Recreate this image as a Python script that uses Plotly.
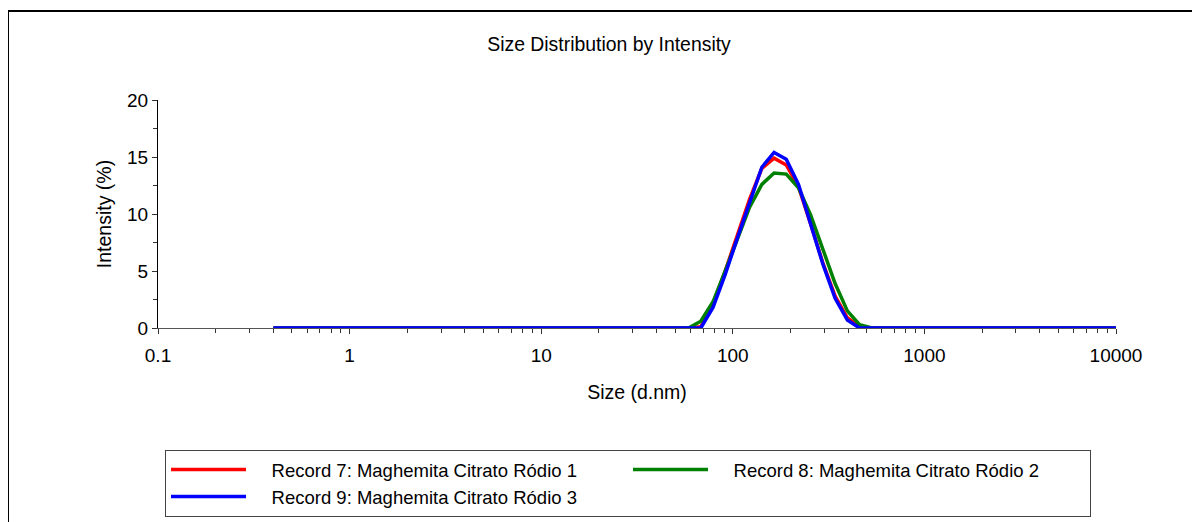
import plotly.graph_objects as go

# Size bins (d.nm)
size_nm = [0.4, 0.4632, 0.5365, 0.6213, 0.7195, 0.8332, 0.9649, 1.117, 1.294, 1.499,
           1.736, 2.010, 2.328, 2.696, 3.122, 3.615, 4.187, 4.849, 5.615, 6.503,
           7.531, 8.721, 10.10, 11.70, 13.54, 15.69, 18.17, 21.04, 24.36, 28.21,
           32.67, 37.84, 43.82, 50.75, 58.77, 68.06, 78.82, 91.28, 105.7, 122.4,
           141.8, 164.2, 190.1, 220.2, 255.0, 295.3, 342.0, 396.1, 458.7, 531.2,
           615.1, 712.4, 825.0, 955.4, 1106, 1281, 1484, 1718, 1990, 2305,
           2669, 3091, 3580, 4145, 4801, 5560, 6439, 7456, 8635, 10000]

record7 = [0, 0, 0, 0, 0, 0, 0, 0, 0, 0,
           0, 0, 0, 0, 0, 0, 0, 0, 0, 0,
           0, 0, 0, 0, 0, 0, 0, 0, 0, 0,
           0, 0, 0, 0, 0, 0.1, 2.0, 5.0, 8.2, 11.3,
           14.0, 14.9, 14.3, 12.4, 9.1, 5.7, 2.8, 0.9, 0.1, 0,
           0, 0, 0, 0, 0, 0, 0, 0, 0, 0,
           0, 0, 0, 0, 0, 0, 0, 0, 0, 0]

record8 = [0, 0, 0, 0, 0, 0, 0, 0, 0, 0,
           0, 0, 0, 0, 0, 0, 0, 0, 0, 0,
           0, 0, 0, 0, 0, 0, 0, 0, 0, 0,
           0, 0, 0, 0, 0, 0.6, 2.3, 5.0, 7.9, 10.6,
           12.6, 13.6, 13.5, 12.3, 9.9, 6.9, 3.9, 1.5, 0.3, 0,
           0, 0, 0, 0, 0, 0, 0, 0, 0, 0,
           0, 0, 0, 0, 0, 0, 0, 0, 0, 0]

record9 = [0, 0, 0, 0, 0, 0, 0, 0, 0, 0,
           0, 0, 0, 0, 0, 0, 0, 0, 0, 0,
           0, 0, 0, 0, 0, 0, 0, 0, 0, 0,
           0, 0, 0, 0, 0, 0, 1.8, 4.7, 7.9, 11.1,
           14.1, 15.4, 14.8, 12.6, 9.1, 5.6, 2.6, 0.7, 0, 0,
           0, 0, 0, 0, 0, 0, 0, 0, 0, 0,
           0, 0, 0, 0, 0, 0, 0, 0, 0, 0]

series_names = ["Record 7: Maghemita Citrato Ródio 1",
                "Record 8: Maghemita Citrato Ródio 2",
                "Record 9: Maghemita Citrato Ródio 3"]
series_values = [record7, record8, record9]
series_colors = ["#ff0000", "#008000", "#0000ff"]

x_tickvals = [0.1, 1, 10, 100, 1000, 10000]
x_ticktext = ["0.1", "1", "10", "100", "1000", "10000"]
y_tickvals = [0, 5, 10, 15, 20]

FONT = "Liberation Sans, Arial, sans-serif"
PAD = "\u00a0\u00a0\u00a0\u00a0"

fig = go.Figure()
for name, vals, col in zip(series_names, series_values, series_colors):
    fig.add_trace(go.Scatter(x=size_nm, y=vals, mode="lines", name=PAD + name,
                             line=dict(color=col, width=3.5)))

# page body has an 8px default margin: work in reference pixels, shifted by 8
OFF = 8
W, H = 1200 - OFF, 522 - OFF
L, R, T, B = 158 - OFF, W - (1116 - OFF), 100 - OFF, H - (328 - OFF)
pw, ph = W - L - R, H - T - B

def px_x(p):
    return (p - OFF - L) / pw

def px_y(p):
    return (H - B - (p - OFF)) / ph

TICKC = "#333"

fig.update_layout(
    width=W, height=H,
    margin=dict(l=L, r=R, t=T, b=B, autoexpand=False),
    paper_bgcolor="white", plot_bgcolor="white",
    font=dict(family=FONT, size=19, color="#000"),
    title=dict(text="Size Distribution by Intensity", x=px_x(609), y=1 - (44 - OFF) / H,
               xanchor="center", yanchor="middle", xref="paper", yref="container",
               font=dict(size=19.4, color="#000")),
    showlegend=True,
    legend=dict(orientation="h", x=px_x(165), y=px_y(450), xanchor="left", yanchor="top",
                bordercolor="#444", borderwidth=1, bgcolor="white",
                entrywidth=372, entrywidthmode="pixels", itemwidth=75,
                font=dict(size=18.5, color="#000")),
    xaxis=dict(type="log", range=[-1, 4], tickvals=x_tickvals, ticktext=x_ticktext,
               showgrid=False, zeroline=False, showline=True, linecolor="#555", linewidth=1,
               ticks="outside", ticklen=5, tickcolor=TICKC, tickfont=dict(size=19),
               ticklabelstandoff=5,
               minor=dict(ticks="outside", ticklen=4, tickcolor=TICKC, dtick="D1", showgrid=False),
               title=dict(text="Size (d.nm)", standoff=20, font=dict(size=19.5)),
               automargin=False),
    yaxis=dict(range=[0, 20], tickvals=y_tickvals, showgrid=False, zeroline=False,
               showline=True, linecolor="#000", linewidth=1,
               ticks="outside", ticklen=5, tickcolor=TICKC, tickfont=dict(size=19),
               minor=dict(ticks="outside", ticklen=4, tickcolor=TICKC, dtick=2.5, showgrid=False),
               title=dict(text="Intensity (%)", standoff=10, font=dict(size=19.5)),
               automargin=False),
    # inside half of the crossing tick marks
    xaxis2=dict(type="log", range=[-1, 4], overlaying="x", anchor="y", side="bottom",
                tickvals=x_tickvals, showticklabels=False, showgrid=False, zeroline=False,
                showline=False, ticks="inside", ticklen=4, tickcolor=TICKC,
                minor=dict(ticks="inside", ticklen=3, tickcolor=TICKC, dtick="D1", showgrid=False)),
    yaxis2=dict(range=[0, 20], overlaying="y", anchor="x", side="left",
                tickvals=y_tickvals, showticklabels=False, showgrid=False, zeroline=False,
                showline=False, ticks="inside", ticklen=4, tickcolor=TICKC,
                minor=dict(ticks="inside", ticklen=4, tickcolor=TICKC, dtick=2.5, showgrid=False)),
    shapes=[dict(type="rect", xref="paper", yref="paper",
                 x0=px_x(8), x1=px_x(1260), y0=px_y(600), y1=px_y(11),
                 line=dict(color="#000", width=2), fillcolor="rgba(0,0,0,0)", layer="below")],
)

fig.write_html("out.html")
